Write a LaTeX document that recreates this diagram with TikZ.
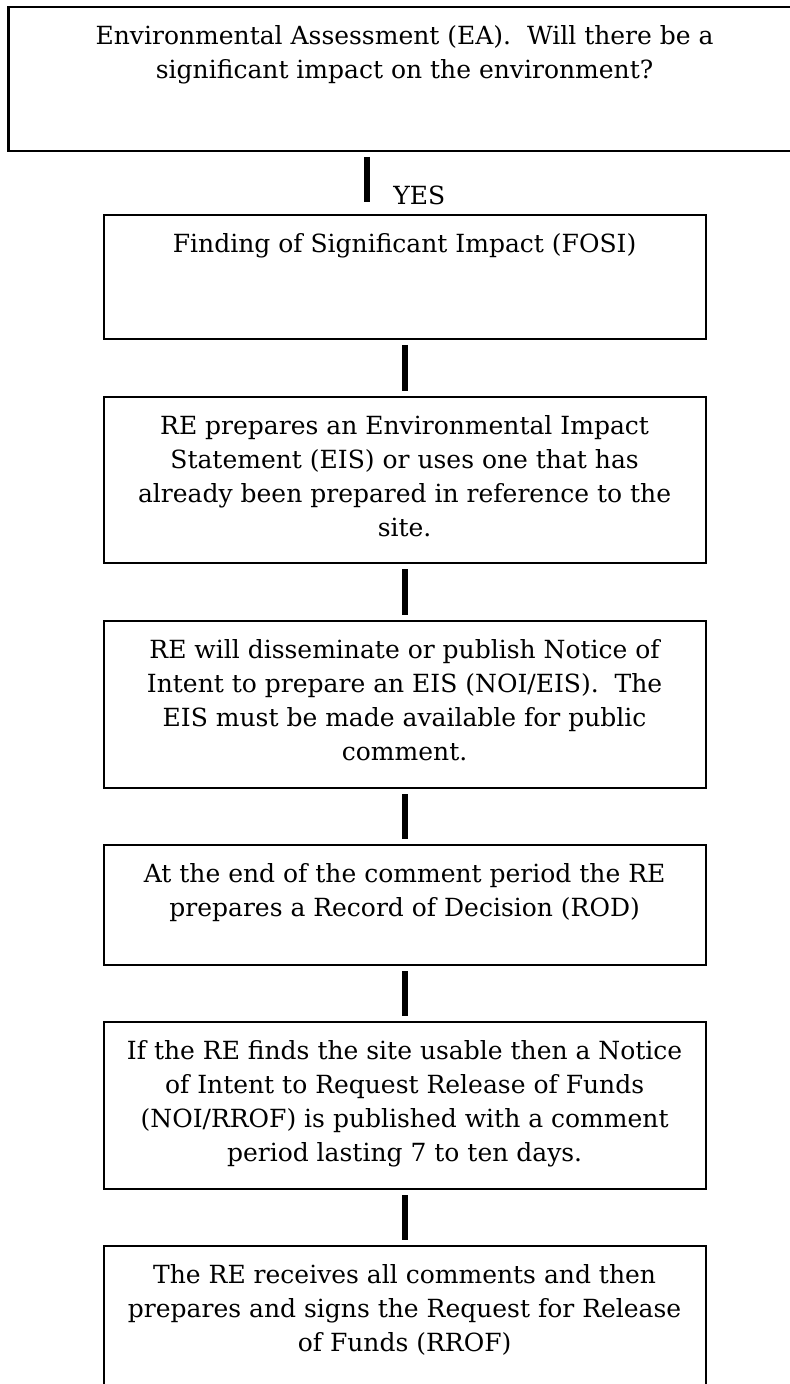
\documentclass[tikz,border=0pt]{standalone}
\usepackage{fontspec}
\setmainfont{DejaVu Serif}
\usetikzlibrary{positioning}

\tikzset{
  stage/.style={draw, line width=1pt, inner sep=0pt, outer sep=0pt, font=\fontsize{12.5pt}{17pt}\selectfont},
  link/.style={line width=3pt, shorten <=3pt, shorten >=3pt},
}
% box body: height, width, lines
\newcommand{\stagetext}[3]{\parbox[c][#1][t]{#2}{\centering\vspace*{7pt}\strut #3}}

\begin{document}
\begin{tikzpicture}[x=0.5pt,y=-0.5pt]
\useasboundingbox (0,0) rectangle (790,1384);

\node[stage, anchor=north, line width=1.3pt] (ea) at (404.6,7)
  {\stagetext{72pt}{396pt}{Environmental Assessment (EA).\ \ Will there be a\\significant impact on the environment?}};
\node[stage, below=32pt of ea] (fosi)
  {\stagetext{62pt}{301pt}{Finding of Significant Impact (FOSI)}};
\node[stage, below=29pt of fosi] (eis)
  {\stagetext{83pt}{301pt}{RE prepares an Environmental Impact\\Statement (EIS) or uses one that has\\already been prepared in reference to the\\site.}};
\node[stage, below=29pt of eis] (noi)
  {\stagetext{83.5pt}{301pt}{RE will disseminate or publish Notice of\\Intent to prepare an EIS (NOI/EIS).\ \ The\\EIS must be made available for public\\comment.}};
\node[stage, below=28.5pt of noi] (rod)
  {\stagetext{60pt}{301pt}{At the end of the comment period the RE\\prepares a Record of Decision (ROD)}};
\node[stage, below=28.5pt of rod] (rrof)
  {\stagetext{83.5pt}{301pt}{If the RE finds the site usable then a Notice\\of Intent to Request Release of Funds\\(NOI/RROF) is published with a comment\\period lasting 7 to ten days.}};
\node[stage, below=28.5pt of rrof] (funds)
  {\stagetext{83.5pt}{301pt}{The RE receives all comments and then\\prepares and signs the Request for Release\\of Funds (RROF)}};

\node[anchor=base west, inner sep=0pt, font=\fontsize{12.5pt}{17pt}\selectfont] (yes) at (393,205) {YES};

\draw[link, shorten >=6.5pt] ([xshift=-19pt]ea.south) -- ([xshift=-19pt]fosi.north);
\draw[link] (fosi) -- (eis);
\draw[link] (eis) -- (noi);
\draw[link] (noi) -- (rod);
\draw[link] (rod) -- (rrof);
\draw[link] (rrof) -- (funds);

\end{tikzpicture}
\end{document}
